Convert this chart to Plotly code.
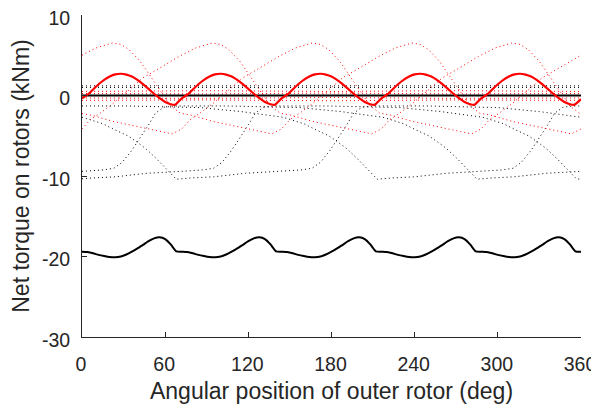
import plotly.graph_objects as go

# ---------------- data ----------------
# net torque curves, one value per sample (5 identical 72-deg periods)
RED_NET_OFFSETS = [0, 4, 8, 12, 16, 20, 24, 28, 32, 36, 40, 44, 48, 52, 56, 60, 64, 67]
RED_NET_Y = [
    -0.35, 0.1, 0.75, 1.4, 1.95, 2.36, 2.62, 2.7, 2.6, 2.35, 1.93, 1.4, 0.82, 0.22, -0.33, -0.8, -1.08, -1.16,
    -0.35, 0.1, 0.75, 1.4, 1.95, 2.36, 2.62, 2.7, 2.6, 2.35, 1.93, 1.4, 0.82, 0.22, -0.33, -0.8, -1.08, -1.16,
    -0.35, 0.1, 0.75, 1.4, 1.95, 2.36, 2.62, 2.7, 2.6, 2.35, 1.93, 1.4, 0.82, 0.22, -0.33, -0.8, -1.08, -1.16,
    -0.35, 0.1, 0.75, 1.4, 1.95, 2.36, 2.62, 2.7, 2.6, 2.35, 1.93, 1.4, 0.82, 0.22, -0.33, -0.8, -1.08, -1.16,
    -0.35, 0.1, 0.75, 1.4, 1.95, 2.36, 2.62, 2.7, 2.6, 2.35, 1.93, 1.4, 0.82, 0.22, -0.33, -0.8, -1.08, -1.16,
    -0.45,
]
BLK_NET_OFFSETS = [0, 4, 8, 12, 16, 20, 24, 28, 32, 36, 40, 44, 48, 52, 56, 60, 64, 68]
BLK_NET_Y = [
    -19.4, -19.45, -19.6, -19.8, -19.95, -20.07, -20.1, -20.0, -19.75, -19.4, -19.0, -18.55, -18.1, -17.75, -17.62, -17.85, -18.5, -19.35,
    -19.4, -19.45, -19.6, -19.8, -19.95, -20.07, -20.1, -20.0, -19.75, -19.4, -19.0, -18.55, -18.1, -17.75, -17.62, -17.85, -18.5, -19.35,
    -19.4, -19.45, -19.6, -19.8, -19.95, -20.07, -20.1, -20.0, -19.75, -19.4, -19.0, -18.55, -18.1, -17.75, -17.62, -17.85, -18.5, -19.35,
    -19.4, -19.45, -19.6, -19.8, -19.95, -20.07, -20.1, -20.0, -19.75, -19.4, -19.0, -18.55, -18.1, -17.75, -17.62, -17.85, -18.5, -19.35,
    -19.4, -19.45, -19.6, -19.8, -19.95, -20.07, -20.1, -20.0, -19.75, -19.4, -19.0, -18.55, -18.1, -17.75, -17.62, -17.85, -18.5, -19.35,
    -19.4,
]
PERIOD = 72
N_PERIODS = 5
X_END = 360

# individual (dotted) torque contributions, red set
RA_X = [0, 10, 22, 28, 34, 42, 47, 52, 58, 64, 71, 79, 94, 118, 132, 137, 144, 150, 157, 166,
        178, 188, 200, 214, 226, 238, 244, 250, 258, 263, 268, 274, 280, 287, 295, 310, 334, 348, 353, 360]
RA_Y = [5.0, 5.9, 6.52, 6.35, 5.7, 4.23, 3.0, 1.75, 0.2, -1.3, -2.2, -2.45, -3.2, -4.06, -4.6, -4.77, -4.15, -3.0, -2.2, -1.05,
        0.7, 2.2, 3.4, 4.85, 5.9, 6.52, 6.35, 5.7, 4.23, 3.0, 1.75, 0.2, -1.3, -2.2, -2.45, -3.2, -4.06, -4.6, -4.77, -4.15]
RB_X = [0, 6, 13, 22, 34, 44, 56, 70, 82, 94, 100, 106, 114, 119, 124, 130, 136, 143, 151, 166,
        190, 204, 209, 216, 222, 229, 238, 250, 260, 272, 286, 298, 310, 316, 322, 330, 335, 340, 346, 352, 359, 360]
RB_Y = [-4.15, -3.0, -2.2, -1.05, 0.7, 2.2, 3.4, 4.85, 5.9, 6.52, 6.35, 5.7, 4.23, 3.0, 1.75, 0.2, -1.3, -2.2, -2.45, -3.2,
        -4.06, -4.6, -4.77, -4.15, -3.0, -2.2, -1.05, 0.7, 2.2, 3.4, 4.85, 5.9, 6.52, 6.35, 5.7, 4.23, 3.0, 1.75, 0.2, -1.3, -2.2, -2.22]
RC_X = [0, 7, 22, 46, 60, 65, 72, 78, 85, 94, 106, 116, 128, 142, 154, 166, 172, 178, 186, 191,
        196, 202, 208, 215, 223, 238, 262, 276, 281, 288, 294, 301, 310, 322, 332, 344, 358, 360]
RC_Y = [-2.25, -2.45, -3.2, -4.06, -4.6, -4.77, -4.15, -3.0, -2.2, -1.05, 0.7, 2.2, 3.4, 4.85, 5.9, 6.52, 6.35, 5.7, 4.23, 3.0,
        1.75, 0.2, -1.3, -2.2, -2.45, -3.2, -4.06, -4.6, -4.77, -4.15, -3.0, -2.2, -1.05, 0.7, 2.2, 3.4, 4.85, 5.0]
RS_X = [0, 90, 180, 270, 360]
RS1_Y = [0.5, 0.6, 0.5, 0.6, 0.5]
RS2_Y = [0.25, 0.2, 0.3, 0.2, 0.25]
RS3_Y = [-0.3, -0.35, -0.25, -0.35, -0.3]
RS4_Y = [-0.6, -0.55, -0.65, -0.55, -0.6]

# black set
BK1_X = [0, 15, 23, 33, 39, 46, 54, 59, 64, 68, 78, 95, 118, 143, 158, 166, 172, 179, 185, 191, 196, 202, 210, 248, 300, 330, 360]
BK1_Y = [-2.7, -3.5, -4.2, -5.0, -5.7, -6.6, -7.9, -8.8, -9.8, -10.4, -10.25, -10.1, -9.66, -9.42, -9.25, -9.04, -8.3, -6.8,
         -5.3, -3.65, -2.2, -1.45, -1.3, -1.3, -1.5, -2.0, -2.7]
BK2_X = [0, 33, 85, 115, 145, 160, 168, 178, 184, 191, 199, 204, 209, 213, 223, 240, 263, 288, 303, 311, 317, 324, 330, 336, 341, 347, 355, 360]
BK2_Y = [-1.3, -1.3, -1.5, -2.0, -2.7, -3.5, -4.2, -5.0, -5.7, -6.6, -7.9, -8.8, -9.8, -10.4, -10.25, -10.1, -9.66, -9.42,
         -9.25, -9.04, -8.3, -6.8, -5.3, -3.65, -2.2, -1.45, -1.3, -1.3]
BK3_X = [0, 15, 23, 29, 36, 42, 48, 53, 59, 67, 105, 157, 187, 217, 232, 240, 250, 256, 263, 271, 276, 281, 285, 295, 312, 335, 360]
BK3_Y = [-9.42, -9.25, -9.04, -8.3, -6.8, -5.3, -3.65, -2.2, -1.45, -1.3, -1.3, -1.5, -2.0, -2.7, -3.5, -4.2, -5.0, -5.7,
         -6.6, -7.9, -8.8, -9.8, -10.4, -10.25, -10.1, -9.66, -9.42]
BK4_X = [0, 7, 24, 47, 72, 87, 95, 101, 108, 114, 120, 125, 131, 139, 177, 229, 259, 289, 304, 312, 322, 328, 335, 343, 348, 353, 357, 360]
BK4_Y = [-10.35, -10.25, -10.1, -9.66, -9.42, -9.25, -9.04, -8.3, -6.8, -5.3, -3.65, -2.2, -1.45, -1.3, -1.3, -1.5, -2.0,
         -2.7, -3.5, -4.2, -5.0, -5.7, -6.6, -7.9, -8.8, -9.8, -10.4, -10.35]
BH_X = [0, 360]
BH1_Y = [1.2, 1.2]
BH2_Y = [1.0, 1.0]
ZERO_Y = [0.0, 0.0]

X_TICKS = [0, 60, 120, 180, 240, 300, 360]
X_TICK_TEXT = ["0", "60", "120", "180", "240", "300", "360"]
Y_TICKS = [-30, -20, -10, 0, 10]
Y_TICK_TEXT = ["-30", "-20", "-10", "0", "10"]
X_TITLE = "Angular position of outer rotor (deg)"
Y_TITLE = "Net torque on rotors (kNm)"

# ---------------- figure ----------------
RED = "#ff0000"
BLK = "#000000"
AX = "#262626"
DOT = "1px,3px"

fig = go.Figure()

def dotted(x, y, color):
    fig.add_trace(go.Scatter(x=x, y=y, mode="lines", line=dict(color=color, width=1, dash=DOT),
                             showlegend=False, hoverinfo="skip"))

for x, y in [(BK1_X, BK1_Y), (BK2_X, BK2_Y), (BK3_X, BK3_Y), (BK4_X, BK4_Y), (BH_X, BH1_Y), (BH_X, BH2_Y)]:
    dotted(x, y, BLK)
for x, y in [(RA_X, RA_Y), (RB_X, RB_Y), (RC_X, RC_Y), (RS_X, RS1_Y), (RS_X, RS2_Y), (RS_X, RS3_Y), (RS_X, RS4_Y)]:
    dotted(x, y, RED)

red_x = [p * PERIOD + o for p in range(N_PERIODS) for o in RED_NET_OFFSETS] + [X_END]
blk_x = [p * PERIOD + o for p in range(N_PERIODS) for o in BLK_NET_OFFSETS] + [X_END]

fig.add_trace(go.Scatter(x=BH_X, y=ZERO_Y, mode="lines", line=dict(color=BLK, width=2), showlegend=False))
fig.add_trace(go.Scatter(x=blk_x, y=BLK_NET_Y, mode="lines", line=dict(color=BLK, width=2, shape="spline", smoothing=0.6),
                         showlegend=False))
fig.add_trace(go.Scatter(x=red_x, y=RED_NET_Y, mode="lines", line=dict(color=RED, width=2.2, shape="spline", smoothing=0.6),
                         showlegend=False))

FONT = "Liberation Sans, Arial, Helvetica, sans-serif"
axis_common = dict(showgrid=False, zeroline=False, showline=True, linecolor=AX, linewidth=1, mirror=False,
                   ticks="inside", ticklen=5, tickwidth=1, tickcolor=AX, automargin=False,
                   ticklabeloverflow="allow",
                   tickfont=dict(family=FONT, size=19.5, color=AX))
fig.update_xaxes(range=[0, 360], tickvals=X_TICKS, ticktext=X_TICK_TEXT, ticklabelstandoff=10, ticklabelshift=-1,
                 title=dict(text=X_TITLE, font=dict(family=FONT, size=23, color=AX), standoff=8), **axis_common)
fig.update_yaxes(range=[-30, 10], tickvals=Y_TICKS, ticktext=Y_TICK_TEXT, ticklabelstandoff=7, ticklabelshift=3,
                 title=dict(text=Y_TITLE, font=dict(family=FONT, size=23, color=AX), standoff=6), **axis_common)
# the page body adds an 8 px offset, so margins are shifted to keep the plot area in place
fig.update_layout(width=599, height=412, margin=dict(l=74, r=26, t=7, b=83),
                  paper_bgcolor="white", plot_bgcolor="white", showlegend=False)
fig.write_html("out.html")
